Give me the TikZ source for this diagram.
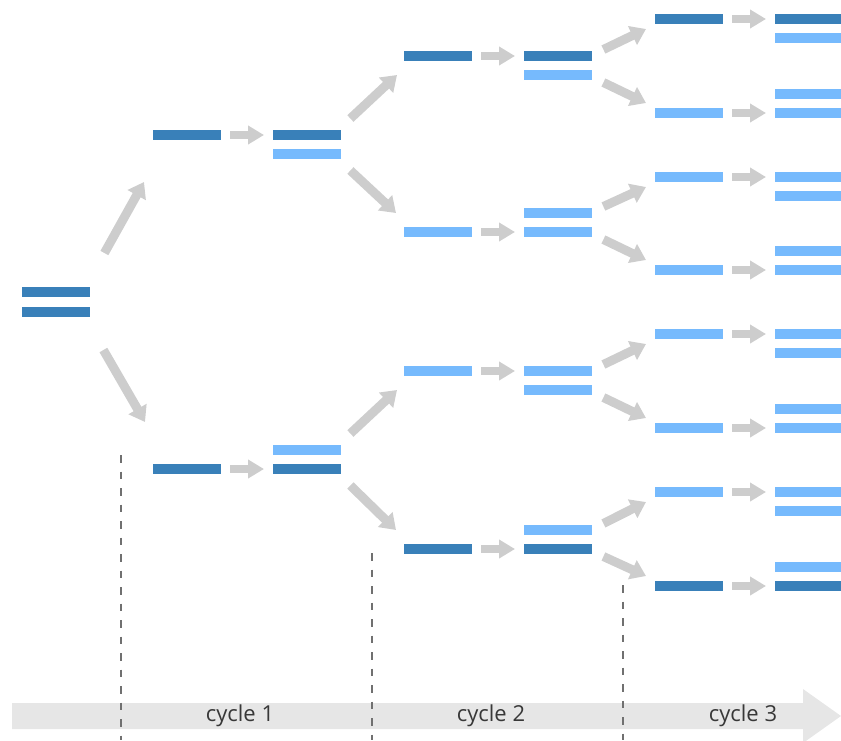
\documentclass[tikz,border=0pt]{standalone}
\usepackage{fontspec}
\setmainfont{Open Sans}
\usetikzlibrary{calc,arrows.meta}
\definecolor{dkblue}{HTML}{3980B9}
\definecolor{ltblue}{HTML}{76BAFD}
\definecolor{arrgray}{HTML}{CDCDCD}
\definecolor{bandgray}{HTML}{E6E6E6}
\definecolor{dashgray}{HTML}{707070}
\definecolor{txtgray}{HTML}{383838}
\tikzset{
  bar/.style={rectangle, draw=none, inner sep=0pt, minimum width=68pt, minimum height=10pt, anchor=west},
  dk/.style={bar, fill=dkblue},
  lt/.style={bar, fill=ltblue},
  harrow/.style={draw=arrgray, line width=8pt, shorten <=9pt, shorten >=9pt,
    -{Triangle[length=16pt,width=18pt]}},
  darrow/.style={draw=arrgray, line width=9pt, -{Triangle[length=15pt,width=20pt]}},
  dashline/.style={draw=dashgray, line width=1.5pt, dash pattern=on 7.5pt off 9pt},
  cyclelabel/.style={text=txtgray, font=\fontsize{22}{26}\selectfont, inner sep=0pt}
}
\begin{document}
\begin{tikzpicture}[x=1pt,y=-1pt]
\useasboundingbox (0,0) rectangle (841,740);
% bottom band
\fill[bandgray] (12,703) -- (803,703) -- (803,689) -- (841,716) -- (803,743) -- (803,729) -- (12,729) -- cycle;
\node[cyclelabel] (cy1) at (240,716) {cycle 1};
\node[cyclelabel] (cy2) at (491,716) {cycle 2};
\node[cyclelabel] (cy3) at (743,716) {cycle 3};
% dashed lines
\coordinate (d1t) at (121,455); \coordinate (d1b) at (121,740);
\coordinate (d2t) at (372,553); \coordinate (d2b) at (372,740);
\coordinate (d3t) at (623,585); \coordinate (d3b) at (623,740);
\draw[dashline] (d1t) -- (d1b);
\draw[dashline] (d2t) -- (d2b);
\draw[dashline] (d3t) -- (d3b);
% level 0
\node[dk] (R0t) at (22,292) {};
\node[dk] (R0b) at (22,312) {};
% level 1
\node[dk] (A1) at (153,135) {};
\node[dk] (A1t) at (273,135) {};
\node[lt] (A1b) at (273,154) {};
\node[dk] (A2) at (153,469) {};
\node[lt] (A2t) at (273,450) {};
\node[dk] (A2b) at (273,469) {};
% level 2
\node[dk] (B1) at (404,56) {};
\node[dk] (B1t) at (524,56) {};
\node[lt] (B1b) at (524,75) {};
\node[lt] (B2) at (404,232) {};
\node[lt] (B2t) at (524,213) {};
\node[lt] (B2b) at (524,232) {};
\node[lt] (B3) at (404,371) {};
\node[lt] (B3t) at (524,371) {};
\node[lt] (B3b) at (524,390) {};
\node[dk] (B4) at (404,549) {};
\node[lt] (B4t) at (524,530) {};
\node[dk] (B4b) at (524,549) {};
% level 3
\node[dk] (C1) at (655,19) {};
\node[dk] (C1t) at (775,19) {};
\node[lt] (C1b) at (775,38) {};
\node[lt] (C2) at (655,113) {};
\node[lt] (C2t) at (775,94) {};
\node[lt] (C2b) at (775,113) {};
\node[lt] (C3) at (655,177) {};
\node[lt] (C3t) at (775,177) {};
\node[lt] (C3b) at (775,196) {};
\node[lt] (C4) at (655,270) {};
\node[lt] (C4t) at (775,251) {};
\node[lt] (C4b) at (775,270) {};
\node[lt] (C5) at (655,334) {};
\node[lt] (C5t) at (775,334) {};
\node[lt] (C5b) at (775,353) {};
\node[lt] (C6) at (655,428) {};
\node[lt] (C6t) at (775,409) {};
\node[lt] (C6b) at (775,428) {};
\node[lt] (C7) at (655,492) {};
\node[lt] (C7t) at (775,492) {};
\node[lt] (C7b) at (775,511) {};
\node[dk] (C8) at (655,586) {};
\node[lt] (C8t) at (775,567) {};
\node[dk] (C8b) at (775,586) {};
% horizontal arrows
\draw[harrow] (A1.east) -- (A1t.west);
\draw[harrow] (A2.east) -- (A2b.west);
\draw[harrow] (B1.east) -- (B1t.west);
\draw[harrow] (B2.east) -- (B2b.west);
\draw[harrow] (B3.east) -- (B3t.west);
\draw[harrow] (B4.east) -- (B4b.west);
\foreach \i in {1,3,5,7} \draw[harrow] (C\i.east) -- (C\i t.west);
\foreach \i in {2,4,6,8} \draw[harrow] (C\i.east) -- (C\i b.west);
% diagonal arrows level 0
\draw[darrow] ($(R0t.east)!.5!(R0b.east)+(14,-49)$) -- ($(A1.west)+(-9,47)$);
\draw[darrow] ($(R0t.east)!.5!(R0b.east)+(13,48)$) -- ($(A2.west)+(-8,-47)$);
% level 1
\foreach \s/\u/\d in {A1/B1/B2, A2/B3/B4} {
  \draw[darrow] ($(\s t.east)!.5!(\s b.east)+(9,-26)$) -- ($(\u.west)+(-7,19)$);
  \draw[darrow] ($(\s t.east)!.5!(\s b.east)+(9,26)$) -- ($(\d.west)+(-8,-19)$);
}
% level 2
\foreach \s/\u/\d in {B1/C1/C2, B2/C3/C4, B3/C5/C6, B4/C7/C8} {
  \draw[darrow] ($(\s t.east)!.5!(\s b.east)+(11,-16)$) -- ($(\u.west)+(-9,10)$);
  \draw[darrow] ($(\s t.east)!.5!(\s b.east)+(11,17)$) -- ($(\d.west)+(-9,-10)$);
}
\end{tikzpicture}
\end{document}
